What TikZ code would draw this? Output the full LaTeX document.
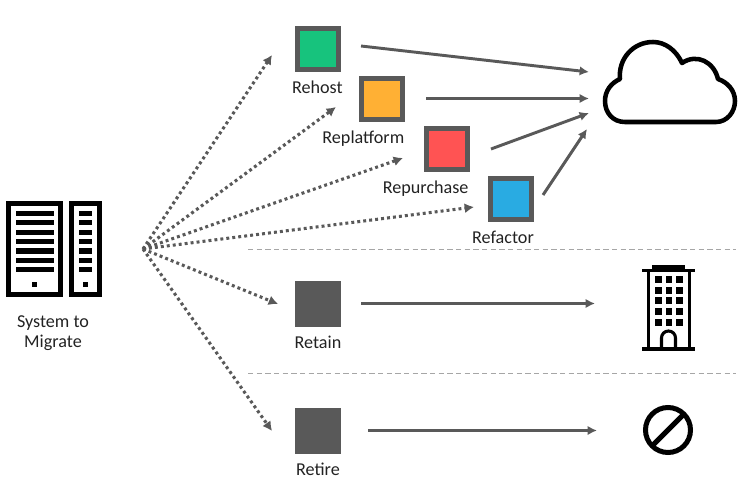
\documentclass[tikz,border=0pt]{standalone}
\usepackage{fontspec}
\setmainfont{Carlito}
\usepackage{xcolor}
\usetikzlibrary{arrows.meta,positioning}
\definecolor{edgegray}{HTML}{595959}
\definecolor{labeltext}{HTML}{222222}
\tikzset{
  strategy/.style = {rectangle, draw=edgegray, line width=3.75pt, minimum size=30.75pt, inner sep=0pt},
  caption/.style = {text=labeltext, font=\fontsize{13.6}{15.4}\selectfont, inner sep=0pt, align=center},
  migrate/.style = {draw=edgegray, line width=2.3pt, dash pattern=on 2.2pt off 2.3pt, -{Latex[length=7pt,width=7.5pt]}},
  move/.style = {draw=edgegray, line width=2.2pt, -{Latex[length=7pt,width=7pt]}},
  divider/.style = {draw=gray!70, line width=0.6pt, dash pattern=on 4pt off 2.5pt},
}
\begin{document}
\begin{tikzpicture}[x=0.75pt, y=-0.75pt,
          serverrack/.pic={%
            \draw [line width=3.75pt] (2.5,2.5) rectangle (54.5,93.5);
            \draw [line width=3.75pt] (65.5,2.5) rectangle (93.5,93.5);
            \foreach \row in {0,...,6} {
              \fill (10,9.7+9.4*\row) rectangle (48,15+9.4*\row);
              \fill (73,9.7+9.4*\row) rectangle (86,15+9.4*\row);
            }
            \fill (26,81) rectangle (31,86);
            \fill (77,81) rectangle (82,86);
          },
          cloudshape/.pic={%
            \draw [line width=3.4pt, line join=round] (20,101) -- (111,101)
              .. controls (122,101) and (130,91) .. (130,80)
              .. controls (130,69) and (122,61) .. (113,58)
              .. controls (109,41) and (92,32) .. (77,42)
              .. controls (71,29) and (60,21) .. (48,21)
              .. controls (28,21) and (13,38) .. (15,58)
              .. controls (6,62) and (0,70) .. (0,80)
              .. controls (0,92) and (8,101) .. (20,101) -- cycle;
          },
          office/.pic={%
            \fill (10,0) rectangle (43,5);
            \fill (0,4) rectangle (53,7);
            \fill (0,82) rectangle (53,86);
            \fill (5,6) rectangle (8,83);
            \fill (46,6) rectangle (49,83);
            \foreach \row in {0,...,4} {
              \foreach \col in {13,23.5,34} {
                \fill (\col,11+10.67*\row) rectangle (\col+6.5,18+10.67*\row);
              }
            }
            \draw [line width=2.3pt] (19.5,83) -- (19.5,73) arc [start angle=180, end angle=360, radius=7] -- (33.5,83);
          },
          noentry/.pic={%
            \draw [line width=3.75pt] (0,0) circle [radius=22.5];
            \draw [line width=3.75pt] (-16,16) -- (16,-16);
          }
          ]
          % backdrop
          \path [use as bounding box] (0,0) rectangle (747,492);

          % vertices
          \node[strategy, fill={rgb,255:red,23;green,195;blue,125}] (rehost) at (318,49) {};
          \node[strategy, fill={rgb,255:red,255;green,176;blue,52}] (replatform) at (382,99) {};
          \node[strategy, fill={rgb,255:red,255;green,83;blue,83}] (repurchase) at (447,149) {};
          \node[strategy, fill={rgb,255:red,41;green,171;blue,226}] (refactor) at (511,199) {};
          \node[strategy, fill=edgegray] (retain) at (318,304) {};
          \node[strategy, fill=edgegray] (retire) at (318,431) {};

          \node[caption, below=6.2pt of rehost, xshift=-0.5pt] (rehostlabel) {Rehost};
          \node[caption, below=6.2pt of replatform, xshift=-14pt] (replatformlabel) {Replatform};
          \node[caption, below=6.6pt of repurchase, xshift=-16pt] (repurchaselabel) {Repurchase};
          \node[caption, below=6.6pt of refactor, xshift=-6pt] (refactorlabel) {Refactor};
          \node[caption, below=6.8pt of retain] (retainlabel) {Retain};
          \node[caption, below=6.8pt of retire] (retirelabel) {Retire};
          \node[caption] (systemlabel) at (53,333) {System to\\Migrate};

          \pic (system) at (6,201) {serverrack};
          \pic (cloud) at (605,21) {cloudshape};
          \pic (building) at (642,265) {office};
          \pic (banned) at (668,430) {noentry};

          % dividers
          \coordinate (topleft) at (248,249.5);
          \coordinate (topright) at (736,249.5);
          \coordinate (lowleft) at (248,373);
          \coordinate (lowright) at (736,373);
          \draw[divider] (topleft) -- (topright);
          \draw[divider] (lowleft) -- (lowright);

          % edge ends
          \coordinate (hub) at (143,249);
          \coordinate (rehostin) at (272,55);
          \coordinate (replatformin) at (336,107);
          \coordinate (repurchasein) at (403,158);
          \coordinate (refactorin) at (474,207);
          \coordinate (retainin) at (278,304);
          \coordinate (retirein) at (272,431);

          \coordinate (rehostout) at (361,46);
          \coordinate (replatformout) at (426,98.5);
          \coordinate (repurchaseout) at (491,149);
          \coordinate (refactorout) at (543,195);
          \coordinate (retainout) at (361,303.5);
          \coordinate (retireout) at (368,430.5);

          \coordinate (cloudin1) at (589,72);
          \coordinate (cloudin2) at (589,98.5);
          \coordinate (cloudin3) at (589,113);
          \coordinate (cloudin4) at (587,129);
          \coordinate (buildingin) at (595,303.5);
          \coordinate (bannedin) at (597,430.5);

          \foreach \target in {rehostin,replatformin,repurchasein,refactorin,retainin,retirein}
            \draw[migrate] (hub) -- (\target);

          \draw[move] (rehostout) -- (cloudin1);
          \draw[move] (replatformout) -- (cloudin2);
          \draw[move] (repurchaseout) -- (cloudin3);
          \draw[move] (refactorout) -- (cloudin4);
          \draw[move] (retainout) -- (buildingin);
          \draw[move] (retireout) -- (bannedin);
        \end{tikzpicture}
\end{document}
